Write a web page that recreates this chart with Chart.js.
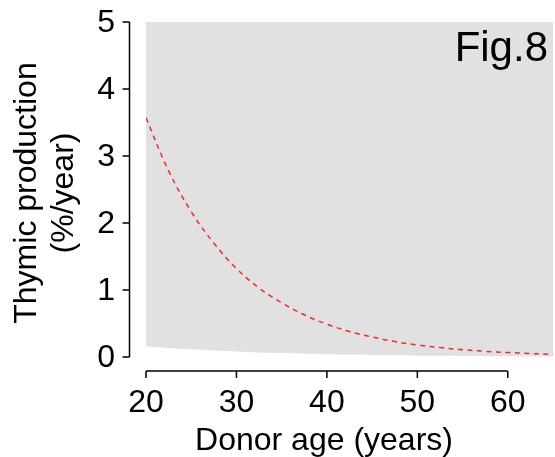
<!DOCTYPE html>
<html>
<head>
<meta charset="utf-8">
<script src="https://cdn.jsdelivr.net/npm/chart.js@4"></script>
<style>
  html, body { margin: 0; padding: 0; background: #ffffff; }
  #wrap { width: 555px; height: 457px; }
</style>
</head>
<body>
<div id="wrap"><canvas id="c" width="555" height="457"></canvas></div>
<script>
// ---- data ----
const ages       = [20, 22.5, 25, 27.5, 30, 32.5, 35, 37.5, 40, 42.5, 45, 47.5, 50, 52.5, 55, 57.5, 60, 62.5, 65];
const production = [3.57, 2.78, 2.17, 1.70, 1.32, 1.03, 0.81, 0.63, 0.49, 0.38, 0.30, 0.23, 0.18, 0.14, 0.11, 0.085, 0.067, 0.052, 0.04];
const bandLower  = [0.16, 0.135, 0.115, 0.097, 0.082, 0.069, 0.058, 0.05, 0.042, 0.036, 0.03, 0.025, 0.02, 0.017, 0.014, 0.012, 0.01, 0.008, 0.007];
const bandUpper  = [5, 5, 5, 5, 5, 5, 5, 5, 5, 5, 5, 5, 5, 5, 5, 5, 5, 5, 5];
const xTicks = [20, 30, 40, 50, 60];
const yTicks = [0, 1, 2, 3, 4, 5];
const xTitle = 'Donor age (years)';
const yTitle = ['Thymic production', '(%/year)'];
const panelLabel = 'Fig.8';

const pts = (ys) => ages.map((a, i) => ({ x: a, y: ys[i] }));
const FONT = '"Liberation Sans", Arial, Helvetica, sans-serif';

const axesPlugin = {
  id: 'rAxes',
  afterDraw(chart) {
    const ctx = chart.ctx;
    const xs = chart.scales.x, ys = chart.scales.y;
    const ca = chart.chartArea;
    ctx.save();
    ctx.strokeStyle = '#000';
    ctx.fillStyle = '#000';
    ctx.lineWidth = 1.5;
    ctx.lineCap = 'butt';
    // y axis (detached to the left)
    const yAxX = ca.left - 16.5;
    ctx.beginPath();
    ctx.moveTo(yAxX, ys.getPixelForValue(yTicks[0]));
    ctx.lineTo(yAxX, ys.getPixelForValue(yTicks[yTicks.length - 1]));
    yTicks.forEach(v => {
      const p = ys.getPixelForValue(v);
      ctx.moveTo(yAxX, p);
      ctx.lineTo(yAxX - 7, p);
    });
    ctx.stroke();
    ctx.font = '32px ' + FONT;
    ctx.textAlign = 'right';
    ctx.textBaseline = 'middle';
    yTicks.forEach(v => ctx.fillText(String(v), 115, ys.getPixelForValue(v) + 1));
    // x axis (detached below)
    const xAxY = ca.bottom + 14;
    ctx.beginPath();
    ctx.moveTo(xs.getPixelForValue(xTicks[0]), xAxY);
    ctx.lineTo(xs.getPixelForValue(xTicks[xTicks.length - 1]), xAxY);
    xTicks.forEach(v => {
      const p = xs.getPixelForValue(v);
      ctx.moveTo(p, xAxY);
      ctx.lineTo(p, xAxY + 7);
    });
    ctx.stroke();
    ctx.textAlign = 'center';
    ctx.textBaseline = 'alphabetic';
    xTicks.forEach(v => ctx.fillText(String(v), xs.getPixelForValue(v), 412));
    // axis titles
    ctx.fillText(xTitle, 324, 450);
    ctx.save();
    ctx.translate(27, 193);
    ctx.rotate(-Math.PI / 2);
    ctx.textBaseline = 'middle';
    ctx.fillText(yTitle[0], 0, 0);
    ctx.restore();
    ctx.save();
    ctx.translate(64, 193);
    ctx.rotate(-Math.PI / 2);
    ctx.textBaseline = 'middle';
    ctx.fillText(yTitle[1], 0, 0);
    ctx.restore();
    // panel label
    ctx.font = '42px ' + FONT;
    ctx.textAlign = 'right';
    ctx.fillText(panelLabel, 548, 61);
    ctx.restore();
  }
};

new Chart(document.getElementById('c'), {
  type: 'line',
  data: {
    datasets: [
      { label: 'production', data: pts(production), borderColor: '#ee2a2a', borderWidth: 1.5, borderDash: [5, 4.5], pointRadius: 0, fill: false, tension: 0.4, order: 0 },
      { label: 'lower', data: pts(bandLower), borderWidth: 0, pointRadius: 0, fill: false, tension: 0.3, order: 2 },
      { label: 'upper', data: pts(bandUpper), borderWidth: 0, pointRadius: 0, fill: '-1', backgroundColor: '#e1e1e1', tension: 0, order: 1 }
    ]
  },
  options: {
    responsive: false,
    animation: false,
    devicePixelRatio: 1,
    layout: { padding: { left: 146, right: 2, top: 22, bottom: 100 } },
    plugins: { legend: { display: false }, tooltip: { enabled: false }, filler: { drawTime: 'beforeDatasetsDraw' } },
    scales: {
      x: { type: 'linear', min: 20, max: 65, display: false },
      y: { type: 'linear', min: 0, max: 5, display: false }
    }
  },
  plugins: [axesPlugin]
});
</script>
</body>
</html>
